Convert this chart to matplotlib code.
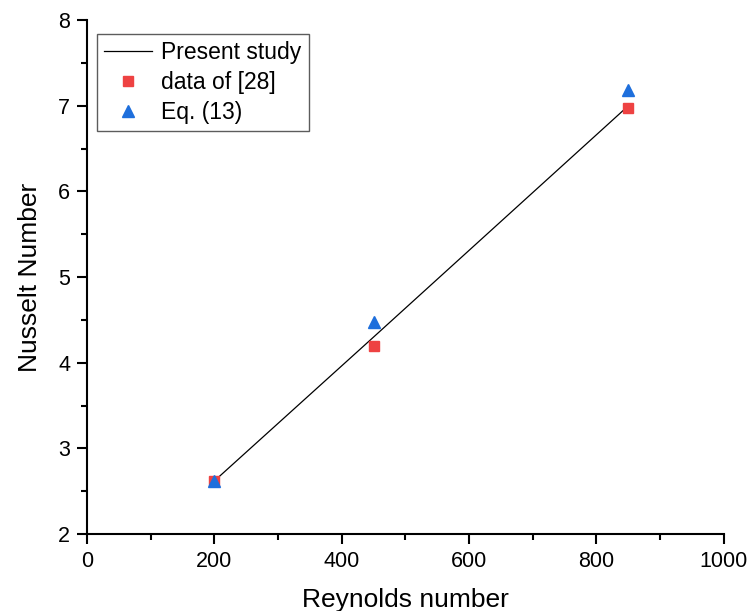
import matplotlib
matplotlib.use("Agg")
import matplotlib.pyplot as plt
from matplotlib.ticker import MultipleLocator

plt.rcParams['font.family'] = ['Liberation Sans', 'DejaVu Sans']

re_line = [200, 450, 850]
nu_present = [2.62, 4.30, 7.0]
re_data = [200, 450, 850]
nu_data28 = [2.62, 4.19, 6.98]
re_eq = [200, 450, 850]
nu_eq13 = [2.62, 4.48, 7.19]

fig = plt.figure(figsize=(7.47, 6.11), dpi=100)
ax = fig.add_axes([0.1165, 0.126, 0.8525, 0.841])

ax.plot(re_line, nu_present, color='black', lw=0.9, label='Present study', zorder=2)
ax.plot(re_data, nu_data28, 's', color='#EE4242', ms=7.5, ls='none', label='data of [28]', zorder=3)
ax.plot(re_eq, nu_eq13, '^', color='#1E6FDC', ms=9, ls='none', label='Eq. (13)', zorder=4)

ax.set_xlim(0, 1000)
ax.set_ylim(2, 8)
ax.xaxis.set_major_locator(MultipleLocator(200))
ax.xaxis.set_minor_locator(MultipleLocator(100))
ax.yaxis.set_major_locator(MultipleLocator(1))
ax.yaxis.set_minor_locator(MultipleLocator(0.5))

for s in ['top', 'right']:
    ax.spines[s].set_visible(False)
for s in ['left', 'bottom']:
    ax.spines[s].set_linewidth(1.5)
ax.tick_params(which='major', direction='out', length=7, width=1.5, labelsize=15.5, pad=5)
ax.tick_params(which='minor', direction='out', length=4, width=1.5)

ax.set_xlabel('Reynolds number', fontsize=19, labelpad=12)
ax.set_ylabel('Nusselt Number', fontsize=19, labelpad=12)

leg = ax.legend(loc='upper left', bbox_to_anchor=(-0.002, 0.995), fontsize=16.5,
                frameon=True, fancybox=False, edgecolor='#333333',
                handlelength=2.1, handletextpad=0.4, borderpad=0.3, labelspacing=0.3)
leg.get_frame().set_linewidth(1.0)

fig.savefig('out.png', dpi=100)
